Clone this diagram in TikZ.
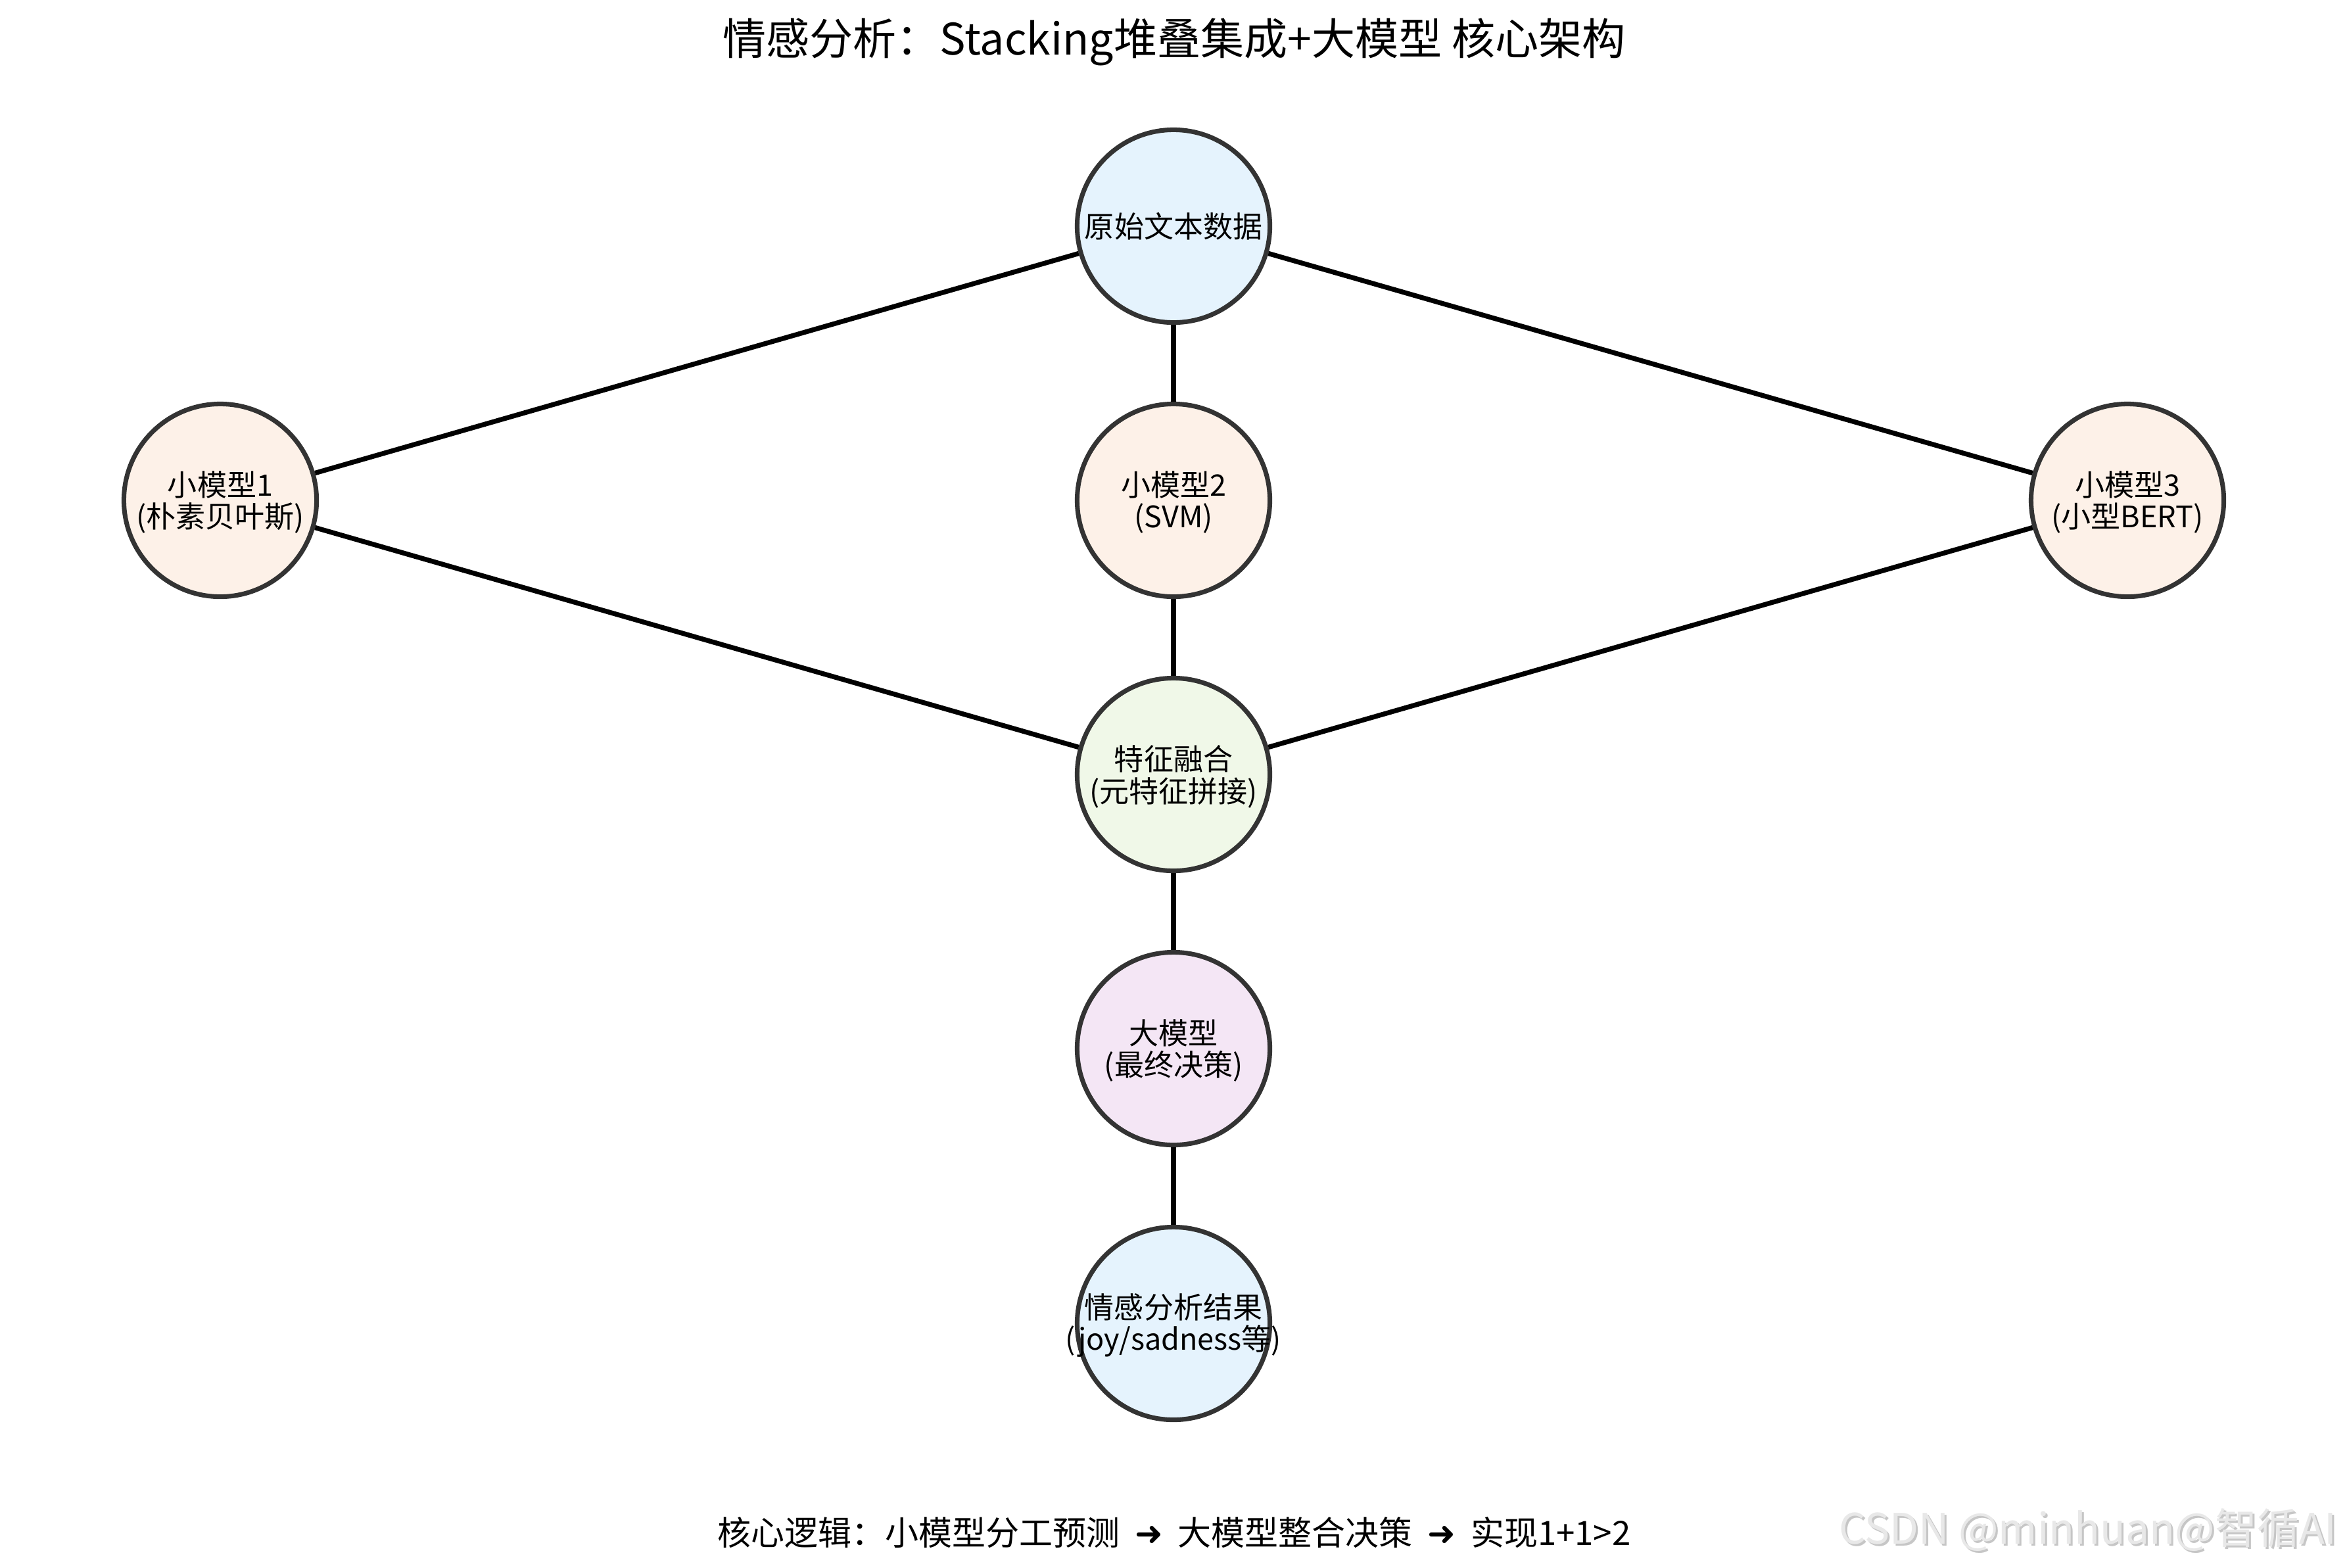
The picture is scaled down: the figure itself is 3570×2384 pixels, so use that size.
\documentclass[tikz,border=0pt]{standalone}
\usepackage{fontspec}
\setmainfont{Noto Sans CJK SC}
\newfontfamily\arrowfont{DejaVu Sans}
\definecolor{outl}{HTML}{333333}
\definecolor{fblue}{HTML}{E5F3FD}
\definecolor{forange}{HTML}{FDF1E8}
\definecolor{fgreen}{HTML}{F0F8E8}
\definecolor{fpurple}{HTML}{F4E6F5}
\begin{document}
\begin{tikzpicture}[x=0.01cm,y=-0.01cm,
  ball/.style={circle, draw=outl, line width=2pt, minimum size=2.93cm, inner sep=0pt},
  lbl/.style={align=center, inner sep=0pt, font=\fontsize{12.8}{13.9}\selectfont},
  conn/.style={draw=black, line width=2.1pt}]
\useasboundingbox (0,0) rectangle (3570,2384);
\fill[white] (0,0) rectangle (3570,2384);
% nodes
\node[ball, fill=fblue]   (src)  at (1785,344)  {};
\node[ball, fill=forange] (m1)   at (335,761)   {};
\node[ball, fill=forange] (m2)   at (1785,761)  {};
\node[ball, fill=forange] (m3)   at (3236,761)  {};
\node[ball, fill=fgreen]  (fuse) at (1785,1178) {};
\node[ball, fill=fpurple] (big)  at (1785,1595) {};
\node[ball, fill=fblue]   (res)  at (1785,2013) {};
% connectors
\draw[conn] (src) -- (m1);
\draw[conn] (src) -- (m2);
\draw[conn] (src) -- (m3);
\draw[conn] (m1) -- (fuse);
\draw[conn] (m2) -- (fuse);
\draw[conn] (m3) -- (fuse);
\draw[conn] (fuse) -- (big);
\draw[conn] (big) -- (res);
% labels
\node[lbl] (tsrc)  at (src)  {原始文本数据};
\node[lbl] (tm1)   at ([yshift=-0.03cm]m1)  {小模型1\\(朴素贝叶斯)};
\node[lbl] (tm2)   at ([yshift=-0.03cm]m2)  {小模型2\\(SVM)};
\node[lbl] (tm3)   at ([yshift=-0.03cm]m3)  {小模型3\\(小型BERT)};
\node[lbl] (tfuse) at ([yshift=-0.03cm]fuse) {特征融合\\(元特征拼接)};
\node[lbl] (tbig)  at ([yshift=-0.03cm]big)  {大模型\\(最终决策)};
\node[lbl] (tres)  at ([yshift=-0.03cm]res)  {情感分析结果\\(joy/sadness等)};
% title and footer
\node[inner sep=0pt, font=\fontsize{18.8}{22}\selectfont] (title) at (1786,64) {情感分析：Stacking堆叠集成+大模型\ 核心架构};
\node[inner sep=0pt, font=\fontsize{14.5}{17}\selectfont] (foot) at (1786,2331) {核心逻辑：小模型分工预测\ \ {\arrowfont ➜}\ \ 大模型整合决策\ \ {\arrowfont ➜}\ \ 实现1+1>2};
% watermark
\node[inner sep=0pt, font=\fontsize{18.2}{20}\selectfont, text=gray!45] (wmshadow) at (3179,2330) {CSDN @minhuan@智循AI};
\node[inner sep=0pt, font=\fontsize{18.2}{20}\selectfont, text=gray!18] (wm) at (3176,2327) {CSDN @minhuan@智循AI};
\end{tikzpicture}
\end{document}
